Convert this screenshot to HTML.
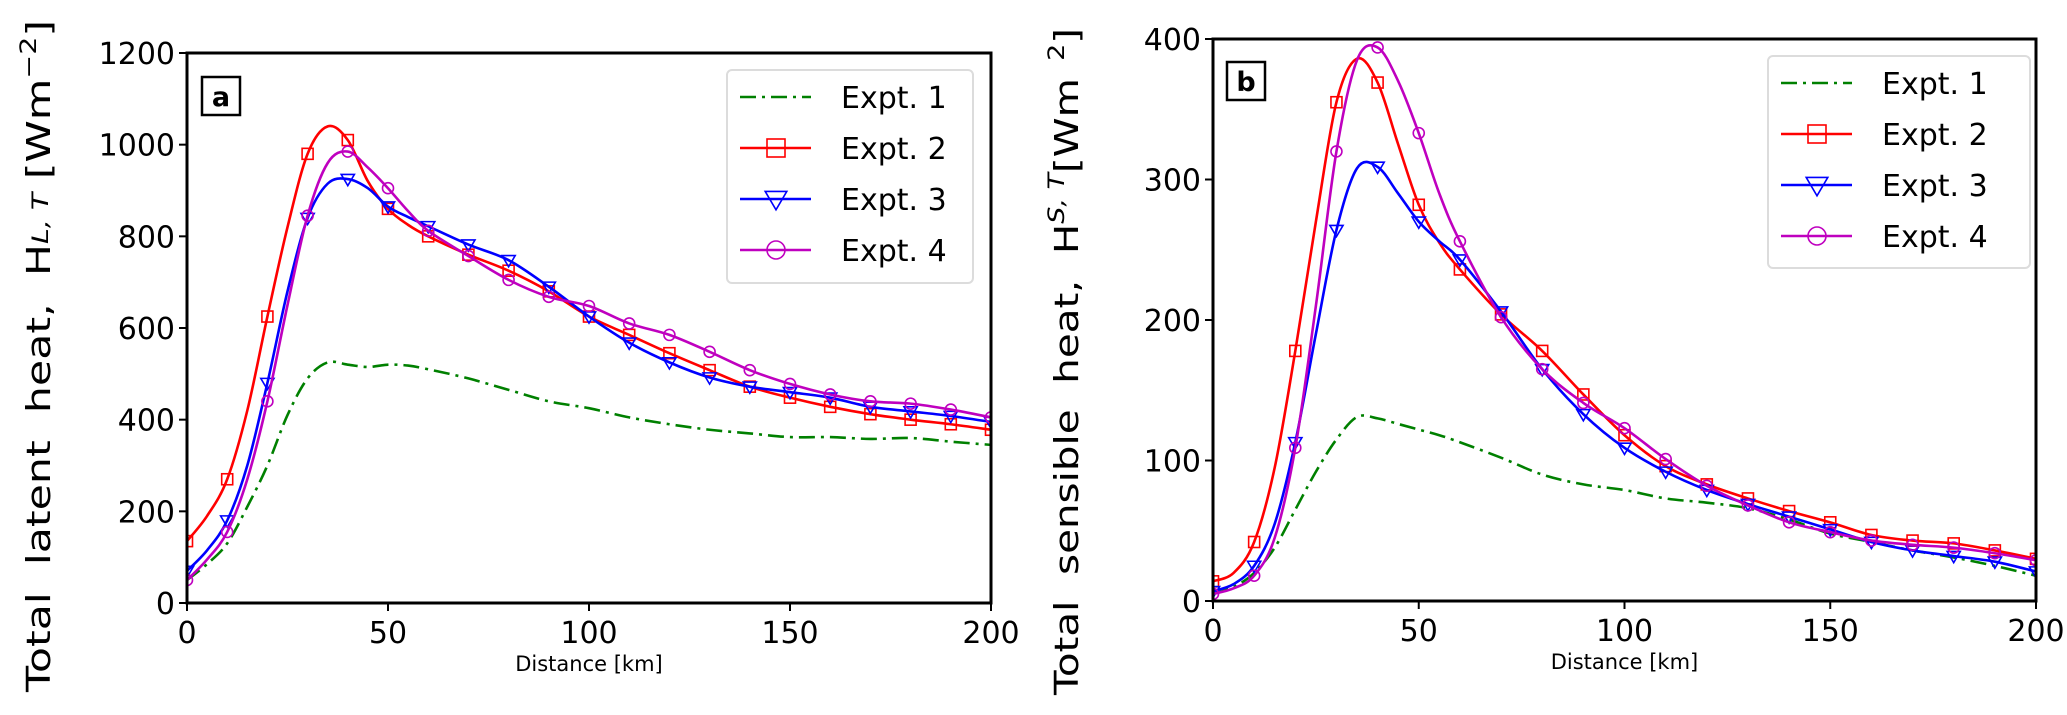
<!DOCTYPE html>
<html><head><meta charset="utf-8"><style>
html,body{margin:0;padding:0;background:#fff;}
svg{display:block;font-family:"DejaVu Sans","Liberation Sans",sans-serif;}
</style></head><body>
<svg id="fig" width="2067" height="715" viewBox="0 0 2067 715" xmlns="http://www.w3.org/2000/svg"></svg>
<script>
// x positions (km)
const xsA = [0,5,10,15,20,25,30,35,40,45,50,55,60,70,80,90,100,110,120,130,140,150,160,170,180,190,200];
// Panel a: total latent heat
const a1 = [50,85,130,210,300,410,490,525,520,515,520,518,510,490,465,440,425,405,390,378,370,362,362,358,360,352,345];
const a2 = [135,190,270,420,625,820,980,1040,1010,920,860,825,800,760,725,680,625,585,545,508,472,448,428,412,400,390,378];
const a3 = [70,115,180,300,480,680,840,915,925,905,865,842,822,782,748,690,625,568,525,492,472,460,448,428,418,408,395];
const a4 = [50,95,155,270,440,650,845,960,985,950,905,855,812,757,705,668,648,610,585,548,508,478,455,440,435,422,405];
// Panel b: total sensible heat
const b1 = [5,10,20,38,65,92,115,131,130,126,122,118,113,102,90,83,79,73,70,66,58,48,42,36,31,25,18];
const b2 = [14,20,42,95,178,270,355,386,369,325,282,255,236,204,178,147,118,96,83,73,64,56,47,43,41,36,30];
const b3 = [7,12,25,55,113,190,264,308,309,290,270,256,243,206,165,133,109,92,79,69,60,51,42,36,32,28,21];
const b4 = [5,9,18,45,109,210,320,385,394,370,333,290,256,202,165,141,123,101,82,68,56,49,43,40,38,34,29];
const xTicks = [0,50,100,150,200];
const yTicksA = [0,200,400,600,800,1000,1200];
const yTicksB = [0,100,200,300,400];
const labels = ["Expt. 1","Expt. 2","Expt. 3","Expt. 4"];

const NS="http://www.w3.org/2000/svg";
const svg=document.getElementById('fig');
function mk(tag,attrs,parent){const e=document.createElementNS(NS,tag);for(const k in attrs)e.setAttribute(k,attrs[k]);(parent||svg).appendChild(e);return e;}

const colors=['#008000','#ff0000','#0000ff','#bf00bf'];
const markers=[null,'square','tri','circle'];

function smooth(pts){
  let d=`M${pts[0][0]},${pts[0][1]}`;
  for(let i=0;i<pts.length-1;i++){
    const p0=pts[Math.max(0,i-1)],p1=pts[i],p2=pts[i+1],p3=pts[Math.min(pts.length-1,i+2)];
    const c1=[p1[0]+(p2[0]-p0[0])/6,p1[1]+(p2[1]-p0[1])/6];
    const c2=[p2[0]-(p3[0]-p1[0])/6,p2[1]-(p3[1]-p1[1])/6];
    d+=` C${c1[0]},${c1[1]} ${c2[0]},${c2[1]} ${p2[0]},${p2[1]}`;
  }
  return d;
}
function marker(g,type,x,y,c,s){
  let e;
  if(type==='square'){e=mk('rect',{x:x-s/2,y:y-s/2,width:s,height:s,fill:'none',stroke:c,'stroke-width':1.6},g);}
  else if(type==='tri'){const h=s*0.6;e=mk('polygon',{points:`${x-h},${y-h*0.7} ${x+h},${y-h*0.7} ${x},${y+h}`,fill:'none',stroke:c,'stroke-width':1.6},g);}
  else {e=mk('circle',{cx:x,cy:y,r:s/2,fill:'none',stroke:c,'stroke-width':1.6},g);}
  
}

function panel(cfg){
  const {L,R,T,B,ymax,yTicks,series,id,ylab,sup,ylx,yBot,yTop,leg,lab}=cfg;
  const X=v=>L+(v/200)*(R-L), Y=v=>B-(v/ymax)*(B-T);
  const g=mk('g',{});
  
  
  const defs=mk('clipPath',{id:'clip'+id},g);mk('rect',{x:L,y:T,width:R-L,height:B-T},defs);
  const pg=mk('g',{'clip-path':`url(#clip${id})`},g);
  series.forEach((s,i)=>{
    const pts=xsA.map((x,j)=>[X(x),Y(s[j])]);
    const p=mk('path',{d:smooth(pts),fill:'none',stroke:colors[i],'stroke-width':2.6,'stroke-dasharray':i===0?'16 6 3 6':'none'},pg);
    
    
    if(markers[i]) xsA.forEach((x,j)=>{if(x%10===0)marker(pg,markers[i],X(x),Y(s[j]),colors[i],11);});
  });
  const fr=mk('rect',{x:L,y:T,width:R-L,height:B-T,fill:'none',stroke:'#000','stroke-width':3},g);
  
  xTicks.forEach(v=>{
    mk('line',{x1:X(v),x2:X(v),y1:B,y2:B+8,stroke:'#000','stroke-width':2},g);
    const t=mk('text',{x:X(v),y:B+40,'font-size':30,'text-anchor':'middle'},g);t.textContent=v;
    
  });
  yTicks.forEach(v=>{
    mk('line',{x1:L-8,x2:L,y1:Y(v),y2:Y(v),stroke:'#000','stroke-width':2},g);
    const t=mk('text',{x:L-12,y:Y(v)+11,'font-size':30,'text-anchor':'end'},g);t.textContent=v;
    
  });
  const xl=mk('text',{x:(L+R)/2,y:B+68,'font-size':21,'text-anchor':'middle'},g);xl.textContent='Distance [km]';
  
  const yl=mk('text',{x:0,y:0,'font-size':33,transform:`translate(${ylx},${yBot}) rotate(-90)`,textLength:yBot-yTop,lengthAdjust:'spacingAndGlyphs'},g);
  yl.innerHTML=ylab+sup;
  
  const lb=mk('rect',{x:lab[0],y:lab[1],width:38,height:38,fill:'#fff',stroke:'#000','stroke-width':2.5},g);
  
  const lt=mk('text',{x:lab[0]+19,y:lab[1]+29,'font-size':27,'font-weight':'bold','text-anchor':'middle'},g);lt.textContent=id;
  
  const lg=mk('g',{},g);
  mk('rect',{x:leg[0],y:leg[1],width:leg[2],height:leg[3],rx:5,fill:'#fff',stroke:'#dcdcdc','stroke-width':2},lg);
  labels.forEach((name,i)=>{
    const y=leg[1]+27+i*51, x0=leg[0]+13;
    const e=mk('g',{},lg);
    mk('line',{x1:x0,x2:x0+71,y1:y,y2:y,stroke:colors[i],'stroke-width':2.6,'stroke-dasharray':i===0?'16 6 3 6':'none'},e);
    if(markers[i])marker(e,markers[i],x0+36,y,colors[i],18);
    const t=mk('text',{x:x0+101,y:y+11,'font-size':30},e);t.textContent=name;
  });
}

panel({L:187,R:991,T:53,B:603,ymax:1200,yTicks:yTicksA,series:[a1,a2,a3,a4],id:'a',
  ylab:'Total&#160; latent&#160; heat,&#160; H',sup:'<tspan font-size="22" dy="-2" font-style="italic">L, T</tspan><tspan dy="2"> [Wm</tspan><tspan font-size="22" dy="-14">−2</tspan><tspan dy="14">]</tspan>',
  ylx:50,yBot:692,yTop:20,leg:[727,70,246,213],lab:[202,77]});
panel({L:1213,R:2036,T:39,B:601,ymax:400,yTicks:yTicksB,series:[b1,b2,b3,b4],id:'b',
  ylab:'Total&#160; sensible&#160; heat,&#160; H',sup:'<tspan font-size="22" dy="-14" font-style="italic">S, T</tspan><tspan dy="14">[Wm</tspan><tspan font-size="22" dy="-14">&#160;&#160;2</tspan><tspan dy="14">]</tspan>',
  ylx:1078,yBot:695,yTop:28,leg:[1768,56,262,212],lab:[1227,62]});
</script>
</body></html>
